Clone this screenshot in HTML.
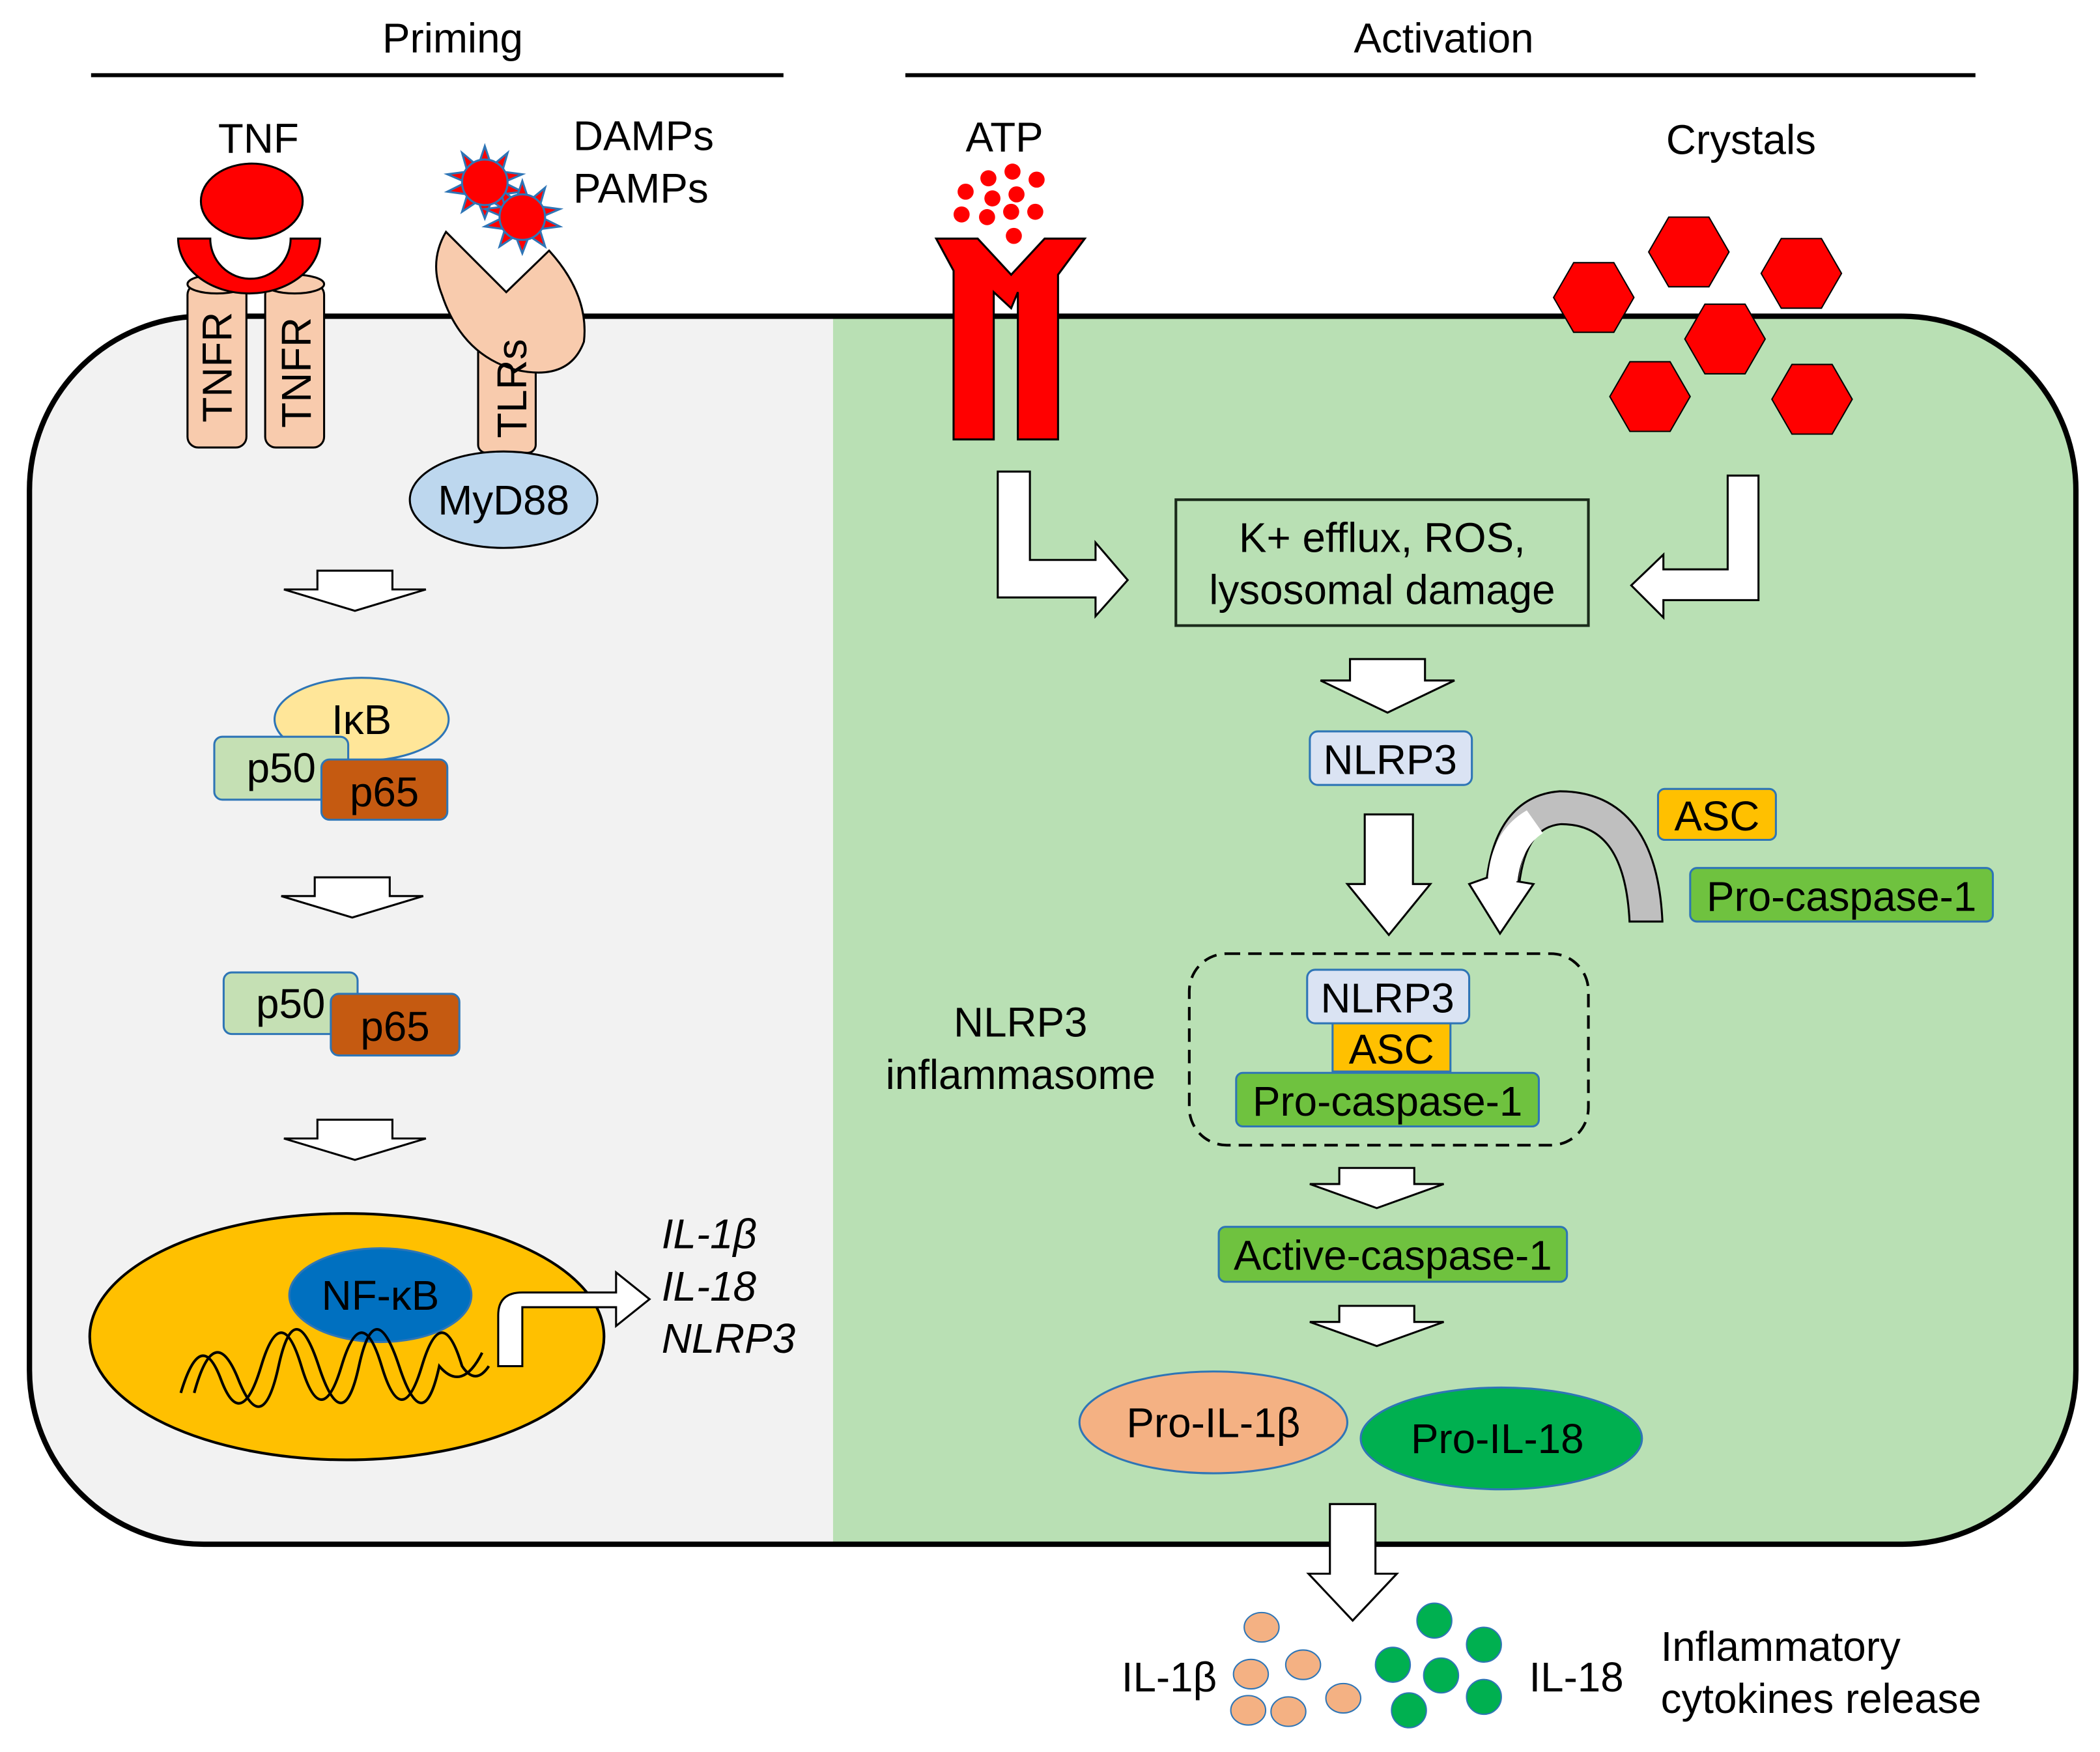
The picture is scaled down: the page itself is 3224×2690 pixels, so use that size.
<!DOCTYPE html>
<html><head><meta charset="utf-8"><style>html,body{margin:0;padding:0;background:#fff}svg{display:block}text{font-family:"Liberation Sans",sans-serif;fill:#000}</style></head><body>
<svg width="3224" height="2690" viewBox="0 0 1568 1308" xmlns="http://www.w3.org/2000/svg">
<defs>
<clipPath id="cell"><rect x="22" y="236" width="1528" height="917" rx="130"/></clipPath>
</defs>
<text x="338" y="39" font-size="31" text-anchor="middle">Priming</text>
<line x1="68" y1="56" x2="585" y2="56" stroke="#000" stroke-width="3"/>
<text x="1078" y="39" font-size="31" text-anchor="middle">Activation</text>
<line x1="676" y1="56" x2="1475" y2="56" stroke="#000" stroke-width="3"/>
<g clip-path="url(#cell)">
<rect x="0" y="200" width="622" height="1000" fill="#f2f2f2"/>
<rect x="622" y="200" width="1000" height="1000" fill="#b9e0b4"/>
</g>
<rect x="22" y="236" width="1528" height="917" rx="130" fill="none" stroke="#000" stroke-width="4"/>

<text x="193" y="114" font-size="31" text-anchor="middle">TNF</text>
<g stroke="#000" stroke-width="1.5" fill="#f8cbad">
<rect x="140" y="212" width="44" height="122" rx="8"/>
<ellipse cx="162" cy="212" rx="22" ry="7"/>
<rect x="198" y="212" width="44" height="122" rx="8"/>
<ellipse cx="220" cy="212" rx="22" ry="7"/>
</g>
<ellipse cx="188" cy="150" rx="38" ry="28" fill="#f00" stroke="#000" stroke-width="1.5"/>
<path d="M133,178 H157 A30,30 0 0 0 217,178 H239 A53,41 0 0 1 133,178 Z" fill="#f00" stroke="#000" stroke-width="1.5"/>
<text transform="translate(173,274) rotate(-90)" font-size="31" text-anchor="middle">TNFR</text>
<text transform="translate(232,278) rotate(-90)" font-size="31" text-anchor="middle">TNFR</text>

<text x="428" y="112" font-size="31">DAMPs</text>
<text x="428" y="151" font-size="31">PAMPs</text>
<rect x="357" y="230" width="43" height="108" rx="6" fill="#f8cbad" stroke="#000" stroke-width="1.5"/>
<path d="M333,173 L378,218 L410,187 Q440,220 436,255 Q425,285 385,276 Q345,265 330,220 Q320,195 333,173 Z" fill="#f8cbad" stroke="#000" stroke-width="1.5"/>
<text transform="translate(393,290) rotate(-90)" font-size="31" text-anchor="middle">TLRs</text>
<g fill="#f00" stroke="#2e75b6" stroke-width="1.5">
<polygon points="362,109 367,124 379,114 375,128 390,130 376,136 390,143 375,145 379,158 367,150 362,163 357,150 345,158 349,145 334,143 348,136 334,130 349,128 345,114 357,124"/>
<polygon points="390,135 395,150 407,140 403,154 418,156 404,162 418,169 403,171 407,184 395,176 390,189 385,176 373,184 377,171 362,169 376,162 362,156 377,154 373,140 385,150"/>
<circle cx="362" cy="136" r="17"/>
<circle cx="390" cy="162" r="17"/>
</g>
<ellipse cx="376" cy="373" rx="70" ry="36" fill="#bdd7ee" stroke="#000" stroke-width="1.5"/>
<text x="376" y="384" font-size="31" text-anchor="middle">MyD88</text>

<g fill="#fff" stroke="#000" stroke-width="1.5">
<path d="M237,426 H293 V440 H318 L265,456 L212,440 H237 Z"/>
<path d="M235,655 H291 V669 H316 L263,685 L210,669 H235 Z"/>
<path d="M237,836 H293 V850 H318 L265,866 L212,850 H237 Z"/>
<path d="M1008,492 H1064 V508 H1086 L1036,532 L986,508 H1008 Z"/>
<path d="M1019,608 H1055 V660 H1068 L1037,698 L1006,660 H1019 Z"/>
<path d="M1000,872 H1056 V884 H1078 L1028,902 L978,884 H1000 Z"/>
<path d="M1000,975 H1056 V987 H1078 L1028,1005 L978,987 H1000 Z"/>
<path d="M993,1123 H1027 V1175 H1043 L1010,1210 L977,1175 H993 Z"/>
<path d="M745,352 H769 V418 H818 V405 L842,433 L818,460 V446 H745 Z"/>
<path d="M1290,355 H1313 V448 H1242 V461 L1218,437 L1242,414 V425 H1290 Z"/>
</g>

<ellipse cx="270" cy="537" rx="65" ry="31" fill="#ffe699" stroke="#2e75b6" stroke-width="1.5"/>
<text x="270" y="548" font-size="31" text-anchor="middle">IκB</text>
<rect x="160" y="550" width="100" height="47" rx="6" fill="#c5e0b4" stroke="#2e75b6" stroke-width="1.5"/>
<text x="210" y="584" font-size="31" text-anchor="middle">p50</text>
<rect x="240" y="567" width="94" height="45" rx="6" fill="#c55a11" stroke="#2e75b6" stroke-width="1.5"/>
<text x="287" y="602" font-size="31" text-anchor="middle">p65</text>
<rect x="167" y="726" width="100" height="46" rx="6" fill="#c5e0b4" stroke="#2e75b6" stroke-width="1.5"/>
<text x="217" y="760" font-size="31" text-anchor="middle">p50</text>
<rect x="247" y="742" width="96" height="46" rx="6" fill="#c55a11" stroke="#2e75b6" stroke-width="1.5"/>
<text x="295" y="777" font-size="31" text-anchor="middle">p65</text>

<ellipse cx="259" cy="998" rx="192" ry="92" fill="#ffc000" stroke="#000" stroke-width="2"/>
<ellipse cx="284" cy="967" rx="68" ry="35" fill="#0070c0" stroke="#2e75b6" stroke-width="1.5"/>
<text x="284" y="978" font-size="31" text-anchor="middle">NF-κB</text>
<g fill="none" stroke="#000" stroke-width="2">
<path d="M135,1040 Q150,990 165,1030 T195,1020 T225,1020 T255,1020 T285,1020 T315,1020 T345,1020 Q355,1035 365,1020"/>
<path d="M145,1040 Q160,985 178,1030 T208,1020 T238,1020 T268,1020 T298,1020 T328,1020 Q345,1040 360,1010"/>
</g>
<path d="M372,1020 V982 Q372,965 390,965 H460 V950 L485,970 L460,990 V976 H390 V1020 Z" fill="#fff" stroke="#000" stroke-width="1.5"/>
<g font-size="31" font-style="italic">
<text x="494" y="932">IL-1β</text>
<text x="494" y="971">IL-18</text>
<text x="494" y="1010">NLRP3</text>
</g>

<text x="750" y="113" font-size="31" text-anchor="middle">ATP</text>
<g fill="#f00">
<circle cx="738" cy="133" r="6"/><circle cx="756" cy="128" r="6"/><circle cx="774" cy="134" r="6"/>
<circle cx="721" cy="143" r="6"/><circle cx="741" cy="148" r="6"/><circle cx="759" cy="145" r="6"/>
<circle cx="718" cy="160" r="6"/><circle cx="737" cy="162" r="6"/><circle cx="755" cy="158" r="6"/><circle cx="773" cy="158" r="6"/>
<circle cx="757" cy="176" r="6"/>
</g>
<path d="M699,178 H730 L755,205 L780,178 H810 L790,205 V328 H760 V218 L755,230 L742,218 V328 H712 V202 Z" fill="#f00" stroke="#000" stroke-width="1.5"/>

<text x="1300" y="115" font-size="31" text-anchor="middle">Crystals</text>
<g fill="#f00" stroke="#000" stroke-width="1">
<polygon points="1231,188 1246,162 1276,162 1291,188 1276,214 1246,214"/>
<polygon points="1315,204 1330,178 1360,178 1375,204 1360,230 1330,230"/>
<polygon points="1160,222 1175,196 1205,196 1220,222 1205,248 1175,248"/>
<polygon points="1258,253 1273,227 1303,227 1318,253 1303,279 1273,279"/>
<polygon points="1202,296 1217,270 1247,270 1262,296 1247,322 1217,322"/>
<polygon points="1323,298 1338,272 1368,272 1383,298 1368,324 1338,324"/>
</g>

<rect x="878" y="373" width="308" height="94" fill="none" stroke="#1a2a1a" stroke-width="2"/>
<text x="1032" y="412" font-size="31" text-anchor="middle">K+ efflux, ROS,</text>
<text x="1032" y="451" font-size="31" text-anchor="middle">lysosomal damage</text>

<rect x="978" y="546" width="121" height="40" rx="6" fill="#dae3f3" stroke="#2e75b6" stroke-width="1.5"/>
<text x="1038" y="578" font-size="31" text-anchor="middle">NLRP3</text>

<!-- curved arrow -->
<path d="M1229,688 Q1225,603 1165,603 Q1128,606 1122,660" fill="none" stroke="#000" stroke-width="26"/>
<path d="M1229,688 Q1225,603 1165,603 Q1128,606 1122,660" fill="none" stroke="#bfbfbf" stroke-width="23"/>
<rect x="1200" y="688" width="50" height="10" fill="#b9e0b4"/>
<path d="M1216,688 H1242" stroke="#000" stroke-width="1.5"/>
<path d="M1111,655 L1097,660 L1120,697 L1145,660 L1133,658 Q1136,630 1150,622" fill="#fff" stroke="#000" stroke-width="1.5"/>
<path d="M1111,655 Q1114,620 1140,605 L1152,622 Q1136,632 1133,658 Z" fill="#fff"/>

<rect x="1238" y="589" width="88" height="38" rx="5" fill="#ffc000" stroke="#2e75b6" stroke-width="1.5"/>
<text x="1282" y="620" font-size="31" text-anchor="middle">ASC</text>
<rect x="1262" y="648" width="226" height="40" rx="5" fill="#6fc23f" stroke="#2e75b6" stroke-width="1.5"/>
<text x="1375" y="680" font-size="31" text-anchor="middle">Pro-caspase-1</text>

<rect x="888" y="712" width="298" height="143" rx="28" fill="none" stroke="#000" stroke-width="2" stroke-dasharray="10,6"/>
<rect x="995" y="763" width="88" height="37" fill="#ffc000" stroke="#2e75b6" stroke-width="1.5"/>
<text x="1039" y="794" font-size="31" text-anchor="middle">ASC</text>
<rect x="976" y="724" width="121" height="40" rx="6" fill="#dae3f3" stroke="#2e75b6" stroke-width="1.5"/>
<text x="1036" y="756" font-size="31" text-anchor="middle">NLRP3</text>
<rect x="923" y="801" width="226" height="40" rx="5" fill="#6fc23f" stroke="#2e75b6" stroke-width="1.5"/>
<text x="1036" y="833" font-size="31" text-anchor="middle">Pro-caspase-1</text>
<text x="762" y="774" font-size="31" text-anchor="middle">NLRP3</text>
<text x="762" y="813" font-size="31" text-anchor="middle">inflammasome</text>

<rect x="910" y="916" width="260" height="41" rx="5" fill="#6fc23f" stroke="#2e75b6" stroke-width="1.5"/>
<text x="1040" y="948" font-size="31" text-anchor="middle">Active-caspase-1</text>

<ellipse cx="906" cy="1062" rx="100" ry="38" fill="#f4b183" stroke="#2e75b6" stroke-width="1.5"/>
<text x="906" y="1073" font-size="31" text-anchor="middle">Pro-IL-1β</text>
<ellipse cx="1121" cy="1074" rx="105" ry="38" fill="#00b050" stroke="#2e75b6" stroke-width="1.5"/>
<text x="1118" y="1085" font-size="31" text-anchor="middle">Pro-IL-18</text>

<g fill="#f4b183" stroke="#2e75b6" stroke-width="1">
<ellipse cx="942" cy="1215" rx="13" ry="11"/><ellipse cx="934" cy="1250" rx="13" ry="11"/><ellipse cx="973" cy="1243" rx="13" ry="11"/>
<ellipse cx="932" cy="1277" rx="13" ry="11"/><ellipse cx="962" cy="1278" rx="13" ry="11"/><ellipse cx="1003" cy="1268" rx="13" ry="11"/>
</g>
<g fill="#00b050" stroke="#2e75b6" stroke-width="1">
<ellipse cx="1071" cy="1210" rx="13" ry="13"/><ellipse cx="1108" cy="1228" rx="13" ry="13"/><ellipse cx="1040" cy="1243" rx="13" ry="13"/>
<ellipse cx="1076" cy="1251" rx="13" ry="13"/><ellipse cx="1108" cy="1267" rx="13" ry="13"/><ellipse cx="1052" cy="1277" rx="13" ry="13"/>
</g>
<text x="873" y="1263" font-size="31" text-anchor="middle">IL-1β</text>
<text x="1177" y="1263" font-size="31" text-anchor="middle">IL-18</text>
<text x="1240" y="1240" font-size="31">Inflammatory</text>
<text x="1240" y="1279" font-size="31">cytokines release</text>
</svg>
</body></html>
